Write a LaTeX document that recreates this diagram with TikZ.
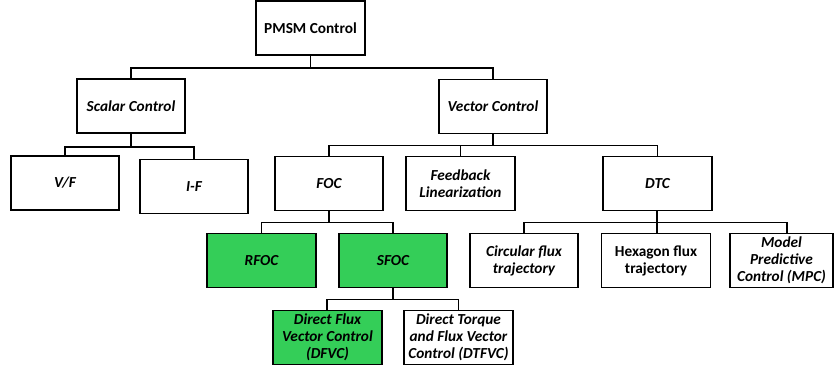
\documentclass[tikz,border=0pt]{standalone}
\usepackage{fontspec}
\setmainfont{Carlito}
\definecolor{boxgreen}{RGB}{52,206,88}
\begin{document}
\begin{tikzpicture}[x=1pt,y=-1pt,
  box/.style={draw=black, line width=1.8pt, fill=white, minimum width=108pt, minimum height=54pt,
    align=center, inner sep=1pt, font=\fontsize{15.3}{17}\selectfont\bfseries\itshape},
  upbox/.style={box, font=\fontsize{15.3}{17}\selectfont\bfseries},
  greenbox/.style={box, fill=boxgreen},
  link/.style={line width=1.8pt, draw=black}]
\useasboundingbox (0,0) rectangle (835,373);
% level 0
\node[upbox, minimum width=109pt] (pmsm) at (310.5,28) {PMSM Control};
% level 1
\node[box] (scalar) at (131,106) {Scalar Control};
\node[box] (vector) at (493,106.5) {Vector Control};
% level 2
\node[box] (vf) at (65,183) {V/F};
\node[box] (if) at (194,186.5) {I-F};
\node[box] (foc) at (329,183.5) {FOC};
\node[box, minimum width=109pt] (fl) at (460.5,183.5) {Feedback\\Linearization};
\node[box, minimum width=109pt] (dtc) at (657.5,183.5) {DTC};
% level 3
\node[greenbox, minimum width=109pt] (rfoc) at (261.5,260.5) {RFOC};
\node[greenbox] (sfoc) at (393,260.5) {SFOC};
\node[box] (circ) at (524,260.5) {Circular flux\\trajectory};
\node[upbox, minimum width=109pt] (hex) at (656,260.5) {Hexagon flux\\trajectory};
\node[box, minimum width=103pt] (mpc) at (781.5,260.5) {Model\\Predictive\\Control (MPC)};
% level 4
\node[greenbox, minimum width=109pt] (dfvc) at (327.5,337.5) {Direct Flux\\Vector Control\\(DFVC)};
\node[box, minimum width=109pt] (dtfvc) at (458.5,337.5) {Direct Torque\\and Flux Vector\\Control (DTFVC)};
% connectors
\draw[link] (pmsm.south) -- ++(0,12) -| (scalar.north);
\draw[link] (pmsm.south) -- ++(0,12) -| (vector.north);
\draw[link] (scalar.south) -- ++(0,13) -| (vf.north);
\draw[link] (scalar.south) -- ++(0,13) -| (if.north);
\draw[link] (vector.south) -- ++(0,11) -| (foc.north);
\draw[link] (vector.south) -- ++(0,11) -| (fl.north);
\draw[link] (vector.south) -- ++(0,11) -| (dtc.north);
\draw[link] (foc.south) -- ++(0,11) -| (rfoc.north);
\draw[link] (foc.south) -- ++(0,11) -| (sfoc.north);
\draw[link] (sfoc.south) -- ++(0,11) -| ([xshift=-0.5pt]dfvc.north);
\draw[link] (sfoc.south) -- ++(0,11) -| (dtfvc.north);
\draw[link] ([xshift=-0.5pt]dtc.south) -- ++(0,11) -| (circ.north);
\draw[link] ([xshift=-0.5pt]dtc.south) -- ++(0,11) -| ([xshift=5.5pt]mpc.north);
\draw[link] ([xshift=-0.5pt]dtc.south) -- ([xshift=1pt]hex.north);
\end{tikzpicture}
\end{document}
